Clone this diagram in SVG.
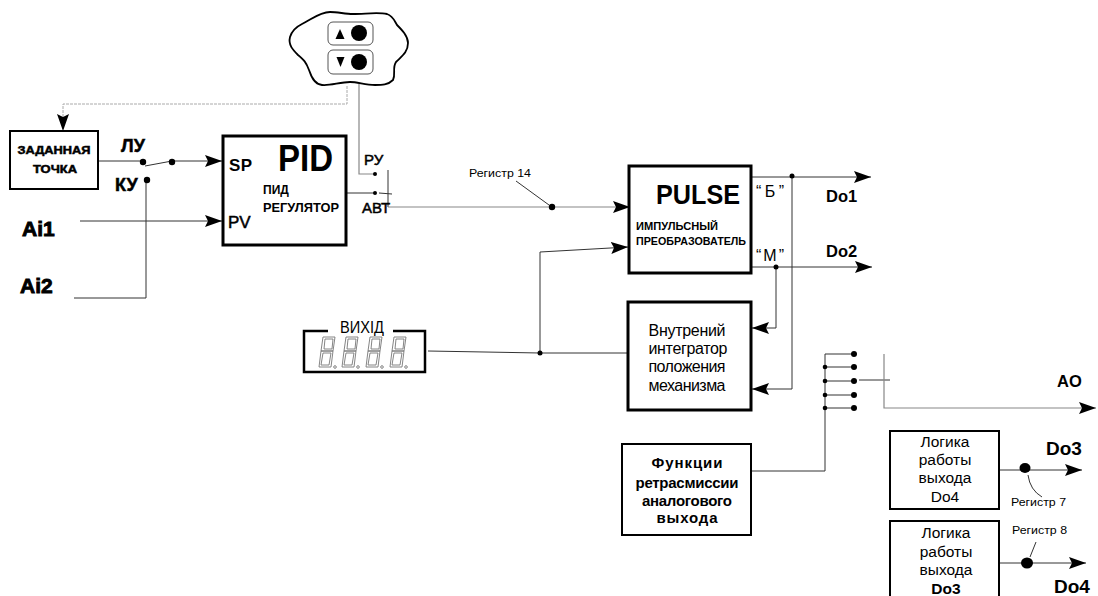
<svg xmlns="http://www.w3.org/2000/svg" width="1098" height="596" viewBox="0 0 1098 596">
<style>
text{font-family:"Liberation Sans",Arial,sans-serif;fill:#000}
.b{font-weight:bold}
.m{text-anchor:middle}
.h{stroke:#000;stroke-width:.5}
.hh{stroke:#000;stroke-width:.9}
.box{fill:#fff;stroke:#000;stroke-width:2}
.hv{fill:#fff;stroke:#000;stroke-width:3}
.w{fill:none;stroke:#333;stroke-width:1}
.g{fill:none;stroke:#888;stroke-width:1.2}
.seg{fill:none;stroke:#777;stroke-width:.9}
</style>
<defs>
<marker id="a" markerUnits="userSpaceOnUse" markerWidth="18" markerHeight="14" refX="17" refY="7" orient="auto"><path d="M0 1L17 7L0 13L3 7Z" fill="#000"/></marker>
<g id="digit"><path class="seg" d="M-5 -15L7 -15L5 -1L-7 -1ZM-7 -1L5 -1L3 15L-9 15Z"/><path class="seg" d="M-3 -13L5 -13L4 -3L-4 -3ZM-5 1L3 1L1 13L-7 13Z"/><circle cx="7" cy="15" r="1.3" class="seg"/></g>
</defs>
<g id="connectors">
<path d="M347 86V104H63V131" fill="none" stroke="#aaa" stroke-width="1" stroke-dasharray="3 1" marker-end="url(#a)"/>
<path class="g" d="M359 84V174H375"/>
<path class="w" d="M98 161H143M145 166L172 161"/>
<path class="w" d="M172 161H222" marker-end="url(#a)"/>
<path class="w" d="M80 221H222" marker-end="url(#a)"/>
<path class="w" d="M146 180V298H74"/>
<path class="w" d="M346 193H375M379 193L392 194M388 170V207"/>
<path class="g" d="M388 207H630" marker-end="url(#a)"/>
<path class="w" d="M516 181L549 205"/>
<path class="w" d="M428 351L540 353H628"/>
<path class="w" d="M540 353V252L628 247" marker-end="url(#a)"/>
<path class="w" d="M752 177H871" marker-end="url(#a)"/>
<path class="w" d="M752 267H872" marker-end="url(#a)"/>
<path class="w" d="M792 177V389H752" marker-end="url(#a)"/>
<path class="w" d="M776 267V328H752" marker-end="url(#a)"/>
<path class="w" d="M751 471H825V354H854M825 367H854M825 381H854M825 395H854M825 408H854M859 380H890"/>
<path class="g" d="M884 354V408H1096" marker-end="url(#a)"/>
<path class="w" d="M999 470H1082" marker-end="url(#a)"/>
<path class="w" d="M999 563H1086" marker-end="url(#a)"/>
<path class="w" d="M1028 475Q1030 490 1042 497M1036 542L1030 557"/>
<g fill="#000">
<circle cx="143" cy="162" r="3.2"/><circle cx="172" cy="162" r="3.2"/><circle cx="147" cy="180" r="3.2"/>
<circle cx="375" cy="174" r="2"/><circle cx="375" cy="193" r="2"/>
<circle cx="552" cy="207" r="3.2"/><circle cx="540" cy="353" r="2.5"/>
<circle cx="792" cy="176" r="2.5"/><circle cx="776" cy="267" r="2.5"/>
<circle cx="854" cy="354" r="3"/><circle cx="854" cy="367" r="3"/><circle cx="854" cy="381" r="3"/><circle cx="854" cy="395" r="3"/><circle cx="854" cy="408" r="3"/>
<circle cx="825" cy="367" r="2.3"/><circle cx="825" cy="381" r="2.3"/><circle cx="825" cy="395" r="2.3"/><circle cx="825" cy="408" r="2.3"/>
<ellipse cx="1025" cy="468" rx="5.5" ry="5"/><ellipse cx="1027" cy="563" rx="6" ry="5.5"/>
</g>
</g>
<g id="panel">
<path d="M290 37C292 30 296 27 302 24C312 19 320 12 330 12C338 12 345 14 353 14C365 14 378 12 387 14C393 16 394 20 397 25C402 30 408 36 408 43C408 52 402 56 396 62C392 68 396 74 393 80C388 85 382 85 375 85C365 85 358 82 350 82C340 82 330 86 322 85C314 84 311 76 309 70C306 62 304 60 298 55C293 50 288 45 290 37Z" fill="#fff" stroke="#000" stroke-width="1.8"/>
<rect x="328" y="22" width="45" height="23" rx="5" fill="#fff" stroke="#555" stroke-width="1"/>
<rect x="328" y="50" width="45" height="24" rx="5" fill="#fff" stroke="#555" stroke-width="1"/>
<path d="M335.5 39L340 29L344.5 39Z"/><circle cx="359" cy="33" r="8"/>
<path d="M336.5 57L344.5 57L340.5 67Z"/><circle cx="359" cy="62" r="8"/>
</g>
<g id="setpoint">
<rect class="box" x="10" y="131" width="88" height="58"/>
<text class="b h m" x="54" y="154" font-size="11" textLength="73" lengthAdjust="spacingAndGlyphs">ЗАДАННАЯ</text>
<text class="b h m" x="55" y="173" font-size="11" textLength="44" lengthAdjust="spacingAndGlyphs">ТОЧКА</text>
</g>
<g id="pid">
<rect class="hv" x="223" y="136" width="123" height="109"/>
<text class="b" x="229" y="171" font-size="17" textLength="23">SP</text>
<text x="228" y="228" font-size="17" class="h">PV</text>
<text class="b" x="278" y="171" font-size="37" textLength="55" lengthAdjust="spacingAndGlyphs">PID</text>
<text class="b" x="263" y="194" font-size="12">ПИД</text>
<text class="b" x="263" y="212" font-size="12" textLength="76" lengthAdjust="spacingAndGlyphs">РЕГУЛЯТОР</text>
</g>
<g id="pulse">
<rect class="hv" x="629" y="166" width="122" height="107"/>
<text class="b" x="656" y="204" font-size="28" textLength="84" lengthAdjust="spacingAndGlyphs">PULSE</text>
<text class="b" x="636" y="230" font-size="11" textLength="82" lengthAdjust="spacingAndGlyphs">ИМПУЛЬСНЫЙ</text>
<text class="b" x="636" y="245" font-size="11" textLength="110" lengthAdjust="spacingAndGlyphs">ПРЕОБРАЗОВАТЕЛЬ</text>
</g>
<g id="integrator">
<rect class="hv" x="628" y="302" width="123" height="108"/>
<text class="m" x="687" y="336" font-size="16" textLength="77">Внутрений</text>
<text class="m" x="688" y="354" font-size="16" textLength="79">интегратор</text>
<text class="m" x="687" y="372" font-size="16" textLength="77">положения</text>
<text class="m" x="687" y="391" font-size="16" textLength="77">механизма</text>
</g>
<g id="retrans">
<rect class="box" x="622" y="444" width="129" height="91"/>
<text class="b m" x="687" y="468" font-size="15" textLength="71">Функции</text>
<text class="b m" x="687" y="488" font-size="15" textLength="103">ретрасмиссии</text>
<text class="b m" x="687" y="506" font-size="15" textLength="90">аналогового</text>
<text class="b m" x="687" y="523" font-size="15" textLength="61">выхода</text>
</g>
<g id="logic1">
<rect class="box" x="890" y="431" width="109" height="78"/>
<text class="m" x="945" y="447" font-size="15.5">Логика</text>
<text class="m" x="945" y="465" font-size="15.5">работы</text>
<text class="m" x="945" y="483" font-size="15.5">выхода</text>
<text class="m" x="945" y="502" font-size="15.5">Do4</text>
</g>
<g id="logic2">
<rect class="box" x="890" y="521" width="109" height="90"/>
<text class="m" x="946" y="538" font-size="15.5">Логика</text>
<text class="m" x="946" y="557" font-size="15.5">работы</text>
<text class="m" x="946" y="575" font-size="15.5">выхода</text>
<text class="m" x="946" y="594" font-size="15.5" font-weight="bold">Do3</text>
</g>
<g id="display">
<path d="M328 331H304V372H425V331H393" fill="none" stroke="#000" stroke-width="2.5"/>
<text class="m" x="362" y="333" font-size="17" textLength="44" lengthAdjust="spacingAndGlyphs">ВИХІД</text>
<use href="#digit" x="328" y="352"/><use href="#digit" x="351" y="352"/><use href="#digit" x="375" y="352"/><use href="#digit" x="399" y="352"/>
</g>
<g id="labels">
<text class="h" x="121" y="152" font-size="18" font-weight="bold">ЛУ</text>
<text class="h" x="115" y="191" font-size="18" font-weight="bold">КУ</text>
<text class="b hh" x="22" y="236" font-size="21">Ai1</text>
<text class="b hh" x="20" y="293" font-size="21">Ai2</text>
<text class="h" x="364" y="165" font-size="15">РУ</text>
<text class="h" x="362" y="213" font-size="15">АВТ</text>
<text x="469" y="177" font-size="11.5" textLength="62" lengthAdjust="spacingAndGlyphs">Регистр 14</text>
<text x="756" y="197" font-size="16" textLength="28">“Б”</text>
<text x="756" y="261" font-size="16" textLength="28">“М”</text>
<text class="b" x="826" y="202" font-size="16.5">Do1</text>
<text class="b" x="826" y="257" font-size="16.5">Do2</text>
<text class="b" x="1057" y="387" font-size="16.5">AO</text>
<text class="b" x="1046" y="455" font-size="19">Do3</text>
<text class="b" x="1054" y="593" font-size="19">Do4</text>
<text x="1011" y="506" font-size="10.5" textLength="55" lengthAdjust="spacingAndGlyphs">Регистр 7</text>
<text x="1012" y="534" font-size="10.5" textLength="55" lengthAdjust="spacingAndGlyphs">Регистр 8</text>
</g>
</svg>
